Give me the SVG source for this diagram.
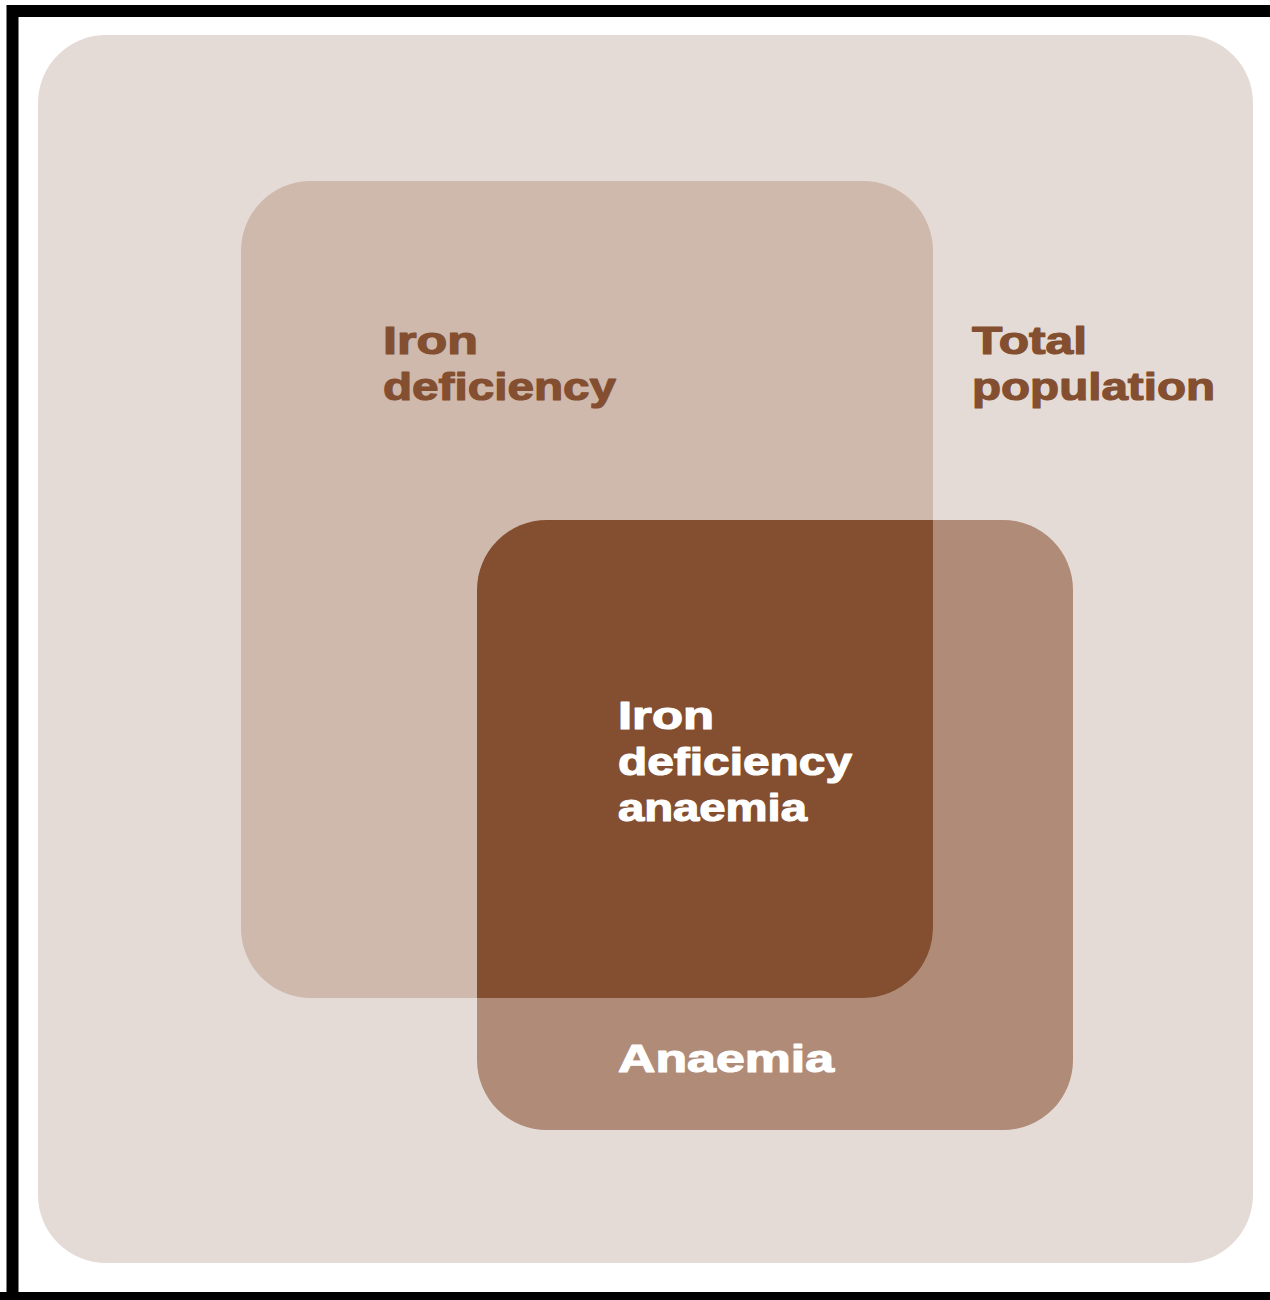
<svg xmlns="http://www.w3.org/2000/svg" width="1270" height="1300" viewBox="0 0 1270 1300">
  <style>
    .lbl { font-family: "Liberation Sans", Arial, sans-serif; font-weight: bold; font-size: 39px; stroke-width: 1.2; stroke-linejoin: round; }
    .dark { fill: #834f30; stroke: #834f30; }
    .light { fill: #ffffff; stroke: #ffffff; }
  </style>
  <defs>
    <clipPath id="clip-iron">
      <rect x="241" y="181" width="692" height="817" rx="70" ry="70"/>
    </clipPath>
  </defs>
  <!-- frame -->
  <rect x="0" y="0" width="1270" height="1300" fill="#ffffff"/>
  <path d="M12.5 1300 V11 H1270" fill="none" stroke="#000000" stroke-width="12"/>
  <rect x="0" y="1292" width="1270" height="8" fill="#000000"/>

  <g id="total-population">
    <rect x="38" y="35" width="1215" height="1228" rx="68" ry="68" fill="#e5dbd6"/>
    <text class="lbl dark" x="972" y="354" textLength="115" lengthAdjust="spacingAndGlyphs">Total</text>
    <text class="lbl dark" x="972" y="400" textLength="243" lengthAdjust="spacingAndGlyphs">population</text>
  </g>

  <g id="anaemia">
    <rect x="477" y="520" width="596" height="610" rx="70" ry="70" fill="#af8b78"/>
    <text class="lbl light" x="618" y="1072" textLength="216" lengthAdjust="spacingAndGlyphs">Anaemia</text>
  </g>

  <g id="iron-deficiency">
    <rect x="241" y="181" width="692" height="817" rx="70" ry="70" fill="#cfb8ac"/>
    <text class="lbl dark" x="383" y="354" textLength="95" lengthAdjust="spacingAndGlyphs">Iron</text>
    <text class="lbl dark" x="383" y="400" textLength="233" lengthAdjust="spacingAndGlyphs">deficiency</text>
  </g>

  <g id="iron-deficiency-anaemia">
    <rect x="477" y="520" width="596" height="610" rx="70" ry="70" fill="#834f30" clip-path="url(#clip-iron)"/>
    <text class="lbl light" x="618" y="729" textLength="96" lengthAdjust="spacingAndGlyphs">Iron</text>
    <text class="lbl light" x="618" y="775" textLength="234" lengthAdjust="spacingAndGlyphs">deficiency</text>
    <text class="lbl light" x="618" y="821" textLength="189" lengthAdjust="spacingAndGlyphs">anaemia</text>
  </g>

  <g id="connectors"/>
</svg>
